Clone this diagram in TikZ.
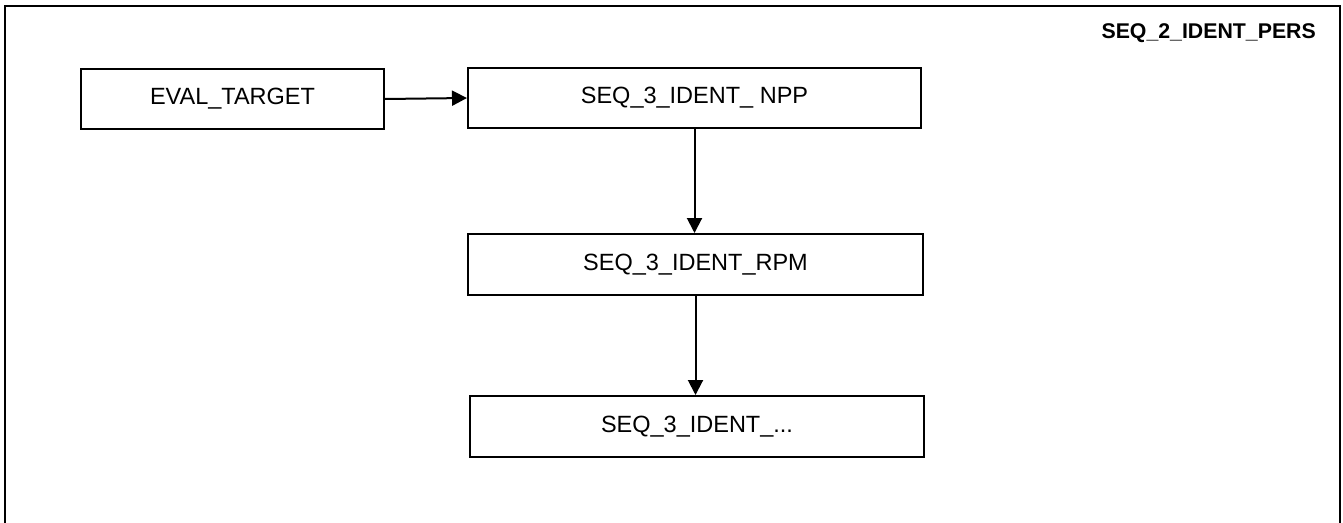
\documentclass[tikz,border=0pt]{standalone}
\usepackage{fontspec}
\setmainfont{Liberation Sans}
\usetikzlibrary{arrows.meta}
\tikzset{
  stepbox/.style={draw, line width=2pt, inner sep=0pt, align=center,
    font=\fontsize{23.5}{28}\selectfont},
  flow/.style={line width=2pt, -{Triangle[length=15pt,width=15pt]}},
}
\begin{document}
\begin{tikzpicture}[x=1pt,y=-1pt]
  \useasboundingbox (0,0) rectangle (1343,522);
  % enclosing sequence frame (open at the bottom)
  \draw[line width=2pt] (5,523) -- (5,5.5) -- (1340,5.5) -- (1340,523);
  \node[anchor=north east, inner sep=0pt, font=\fontsize{21.3}{25}\selectfont\bfseries]
    (title) at (1316,23) {SEQ\_2\_IDENT\_PERS};

  \node[stepbox, minimum width=303pt, minimum height=60pt] (eval) at (232.5,99) {EVAL\_TARGET};
  \node[stepbox, minimum width=453pt, minimum height=60pt] (npp)  at (694.5,98) {SEQ\_3\_IDENT\_ NPP};
  \node[stepbox, minimum width=455pt, minimum height=61pt] (rpm)  at (695.5,264.5) {SEQ\_3\_IDENT\_RPM};
  \node[stepbox, minimum width=454pt, minimum height=61pt] (last) at (697,426.5) {SEQ\_3\_IDENT\_...};

  \draw[flow] (eval.east) -- (npp.west);
  \draw[flow] (npp.south) -- (npp.south |- rpm.north);
  \draw[flow] (rpm.south) -- (rpm.south |- last.north);
\end{tikzpicture}
\end{document}
